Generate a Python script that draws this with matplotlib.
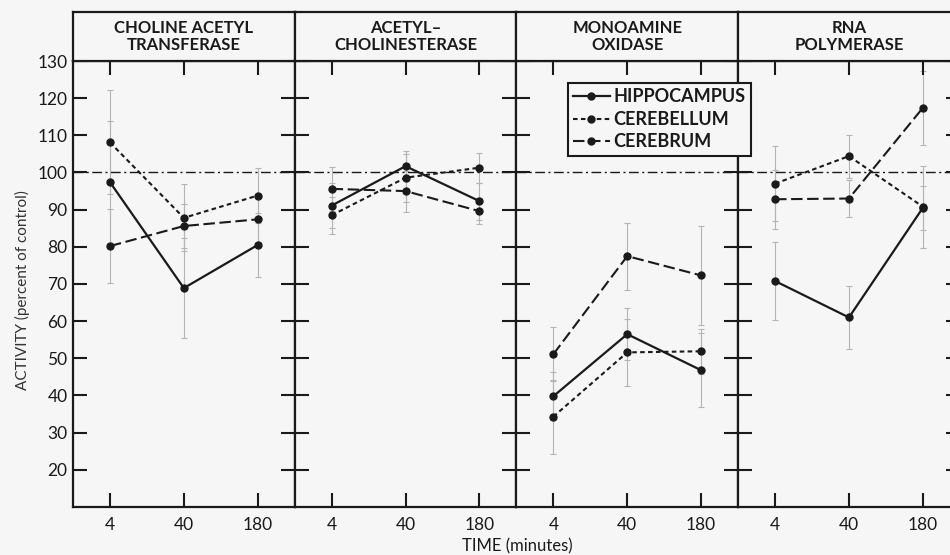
import matplotlib
matplotlib.use('Agg')
import matplotlib.pyplot as plt

plt.rcParams['font.family'] = ['Lato', 'DejaVu Sans']

# data (percent of control)
times = ['4', '40', '180']
enzymes = ['CHOLINE ACETYL\nTRANSFERASE', 'ACETYL\u2013\nCHOLINESTERASE',
           'MONOAMINE\nOXIDASE', 'RNA\nPOLYMERASE']

hippocampus = [[97.4, 68.9, 80.5], [91.1, 101.7, 92.3], [39.8, 56.5, 46.8], [70.8, 61.0, 90.5]]
hippocampus_err = [[16.5, 13.5, 8.5], [6.0, 4.0, 5.0], [6.5, 7.0, 10.0], [10.5, 8.5, 6.0]]
cerebellum = [[108.1, 87.8, 93.8], [88.5, 98.6, 101.3], [34.3, 51.6, 51.9], [97.0, 104.4, 90.8]]
cerebellum_err = [[14.0, 9.0, 7.5], [5.0, 6.5, 4.0], [10.0, 9.0, 6.0], [10.0, 5.8, 11.0]]
cerebrum = [[80.2, 85.6, 87.4], [95.6, 95.0, 89.6], [51.1, 77.5, 72.3], [92.8, 93.0, 117.4]]
cerebrum_err = [[10.0, 6.0, 6.0], [6.0, 5.5, 3.5], [7.3, 9.0, 13.3], [8.0, 5.0, 10.0]]

bg = '#f6f6f6'
ink = '#1a1a1a'
W, H = 950, 555


def box(x0, y0, x1, y1):
    return [x0 / W, 1 - y1 / H, (x1 - x0) / W, (y1 - y0) / H]


fig = plt.figure(figsize=(9.5, 5.55), dpi=100)
fig.patch.set_facecolor(bg)

pw = 221.7
series = [(hippocampus, hippocampus_err, 'HIPPOCAMPUS', (None, None)),
          (cerebellum, cerebellum_err, 'CEREBELLUM', (2.2, 1.6)),
          (cerebrum, cerebrum_err, 'CEREBRUM', (5.5, 2.2))]
x = [0, 1, 2]

for i in range(4):
    x0 = 73 + i * pw
    ax = fig.add_axes(box(x0, 61, x0 + pw, 507))
    hd = fig.add_axes(box(x0, 12, x0 + pw, 61))
    ax.set_facecolor(bg)
    hd.set_facecolor(bg)

    ax.axhline(100, color=ink, lw=1.0, dashes=(7, 2.5, 1.5, 2.5), zorder=2)
    for vals, errs, name, dash in series:
        ax.errorbar(x, vals[i], yerr=errs[i], fmt='none', ecolor='#b4b4b4',
                    elinewidth=0.8, capsize=2.5, capthick=0.8, zorder=1)
        if dash[0] is None:
            ax.plot(x, vals[i], '-', color=ink, lw=1.6, marker='o', ms=5, label=name, zorder=3)
        else:
            ax.plot(x, vals[i], '--', color=ink, lw=1.5, dashes=dash, marker='o', ms=5,
                    label=name, zorder=3)

    ax.set_xlim(-0.5, 2.5)
    ax.set_ylim(10, 130)
    ax.set_xticks(x)
    ax.set_xticklabels(times)
    ax.set_yticks(range(20, 140, 10))
    ax.tick_params(direction='in', length=10, width=1.5, top=True, right=True,
                   labelsize=12.5, colors=ink, pad=7)
    if i > 0:
        ax.set_yticklabels([])
    else:
        ax.tick_params(axis='y', pad=4)
    for s in ax.spines.values():
        s.set_linewidth(1.6)
        s.set_color(ink)

    hd.set_xticks([])
    hd.set_yticks([])
    for s in hd.spines.values():
        s.set_linewidth(1.6)
        s.set_color(ink)
    hd.text(0.5, 0.5, enzymes[i], ha='center', va='center', fontsize=12,
            fontweight='bold', color=ink, linespacing=1.1, transform=hd.transAxes)

    if i == 0:
        handles, labels = ax.get_legend_handles_labels()

leg = fig.legend(handles, labels, loc='upper left', bbox_to_anchor=(568 / W, 1 - 83 / H),
                 fontsize=13, frameon=True, fancybox=False, edgecolor=ink, facecolor=bg,
                 framealpha=1, handlelength=2.0, handletextpad=0.2, labelspacing=0.3,
                 borderpad=0.3, borderaxespad=0)
leg.get_frame().set_linewidth(1.5)
for t in leg.get_texts():
    t.set_fontweight('bold')
    t.set_color(ink)

fig.text(22 / W, 1 - 290 / H, 'ACTIVITY (percent of control)', rotation=90,
         ha='center', va='center', fontsize=11, color='#333333')
fig.text(517 / W, 1 - 546 / H, 'TIME (minutes)', ha='center', va='center',
         fontsize=12, color=ink)

plt.savefig('out.png', dpi=100, facecolor=bg)
